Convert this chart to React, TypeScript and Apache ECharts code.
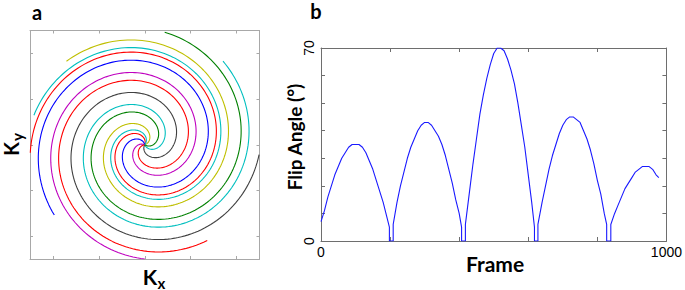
import React, { useEffect, useRef } from "react";
import * as echarts from "echarts";

// ---------- Panel a: spiral k-space interleaves ----------
// colours of the interleaves, in plotting order (MATLAB classic colour order)
const ARM_COLORS = ["#FF0000", "#00BFBF", "#BF00BF", "#BFBF00", "#404040", "#0000FF", "#008000", "#FF0000", "#00BFBF"];
// angle (degrees) where each interleaf reaches the k-space edge
const ARM_END_ANGLES = [184, 47, -90, 133, -5, -142, 80, -57, 165];
// total winding of one interleaf from centre to edge (degrees)
const ARM_SWEEP = 475;
const K_MAX = 5;
const K_TICKS = [-4, -2, 0, 2, 4];

// ---------- Panel b: flip angle schedule ----------
const FRAMES = [
  0, 10, 20, 30, 40, 50, 60, 70, 80, 90, 100, 110, 120, 130, 140, 150, 160, 170, 180, 190, 198, 198, 209,
  209, 220, 230, 240, 250, 260, 270, 280, 290, 300, 310, 320, 330, 340, 350, 360, 370, 380, 390, 400, 407, 407, 418,
  418, 420, 430, 440, 450, 460, 470, 480, 490, 500, 510, 520, 530, 540, 550, 560, 570, 580, 590, 600, 610, 618, 618, 628,
  628, 640, 650, 660, 670, 680, 690, 700, 710, 720, 730, 740, 750, 760, 770, 780, 790, 800, 810, 820, 827, 827, 839,
  839, 850, 860, 870, 880, 890, 900, 910, 920, 930, 940, 950, 960, 970, 978,
];
const FLIP_ANGLES = [
  7, 11, 16, 20, 24, 27, 30, 32, 34, 35, 35, 35, 34, 32, 29, 26, 22, 18, 14, 9, 5, 0, 0,
  6, 14, 20, 25, 30, 34, 37, 40, 42, 43, 43, 42, 40, 38, 35, 31, 26, 21, 15, 10, 5, 0, 0,
  6, 8, 18, 28, 37, 46, 53, 59, 64, 68, 70, 70, 69, 66, 62, 57, 50, 42, 34, 24, 14, 5, 0, 0,
  6, 14, 20, 26, 31, 35, 39, 42, 44, 45, 45, 44, 43, 40, 37, 33, 28, 22, 17, 10, 6, 0, 0,
  6, 10, 13, 16, 19, 21, 23, 25, 26, 27, 27, 27, 26, 24, 23,
];
const FRAME_LABELS = [0, 1000];
const ANGLE_LABELS = [0, 70];

const BOLD_FONT = "Lato";
const TICK_FONT = "Liberation Sans";

function spiralArm(endDeg: number): number[][] {
  const pts: number[][] = [];
  const n = 240;
  for (let i = 0; i <= n; i++) {
    const s = i / n;
    const r = K_MAX * s;
    const th = ((endDeg - ARM_SWEEP * (1 - s)) * Math.PI) / 180;
    pts.push([r * Math.cos(th), r * Math.sin(th)]);
  }
  return pts;
}

function boxAxis(gridIndex: number, position: string, min: number, max: number, color: string, extra: any) {
  return {
    type: "value",
    gridIndex,
    position,
    min,
    max,
    axisLine: { show: true, onZero: false, lineStyle: { color, width: 1 } },
    splitLine: { show: false },
    ...extra,
  };
}

function label(text: string, x: number, y: number, size: number, lineHeight: number, rotated = false) {
  return {
    type: "text",
    x,
    y,
    rotation: rotated ? Math.PI / 2 : 0,
    style: {
      text,
      font: `bold ${size}px ${BOLD_FONT}`,
      lineHeight,
      fill: "#000",
      textAlign: "center",
      textVerticalAlign: "middle",
    },
  };
}

export default function App() {
  const ref = useRef<HTMLDivElement>(null);
  useEffect(() => {
    document.body.style.margin = "0";
    const chart = echarts.init(ref.current as HTMLDivElement, null, { renderer: "svg" });
    const bColor = "#6e6e6e";
    const aColor = "#a8a8a8";
    const tickB = { show: true, inside: true, length: 4, lineStyle: { color: bColor, width: 1 } };
    const tickA = { show: true, inside: true, length: 3, customValues: K_TICKS, lineStyle: { color: aColor, width: 1 } };
    const xLabel = {
      show: true,
      margin: 4,
      color: "#000",
      fontSize: 14,
      fontFamily: TICK_FONT,
      formatter: (v: number) => (FRAME_LABELS.indexOf(v) >= 0 ? String(v) : ""),
    };
    const yLabel = {
      show: true,
      margin: 5,
      rotate: 90,
      color: "#000",
      fontSize: 14,
      fontFamily: TICK_FONT,
      formatter: (v: number) => (ANGLE_LABELS.indexOf(v) >= 0 ? String(v) : ""),
    };

    const option: any = {
      animation: false,
      backgroundColor: "#ffffff",
      grid: [
        { left: 321, top: 48, width: 347, height: 193, containLabel: false },
        { left: 30, top: 30.5, width: 229.5, height: 228.5, containLabel: false },
      ],
      xAxis: [
        boxAxis(0, "bottom", 0, 1000, bColor, { interval: 200, axisTick: tickB, axisLabel: xLabel }),
        boxAxis(0, "top", 0, 1000, bColor, { interval: 200, axisTick: tickB, axisLabel: { show: false } }),
        boxAxis(1, "bottom", -K_MAX, K_MAX, aColor, { axisTick: tickA, axisLabel: { show: false } }),
        boxAxis(1, "top", -K_MAX, K_MAX, aColor, { axisTick: tickA, axisLabel: { show: false } }),
      ],
      yAxis: [
        boxAxis(0, "left", 0, 70, bColor, { interval: 10, axisTick: tickB, axisLabel: yLabel }),
        boxAxis(0, "right", 0, 70, bColor, { interval: 10, axisTick: tickB, axisLabel: { show: false } }),
        boxAxis(1, "left", -K_MAX, K_MAX, aColor, { axisTick: tickA, axisLabel: { show: false } }),
        boxAxis(1, "right", -K_MAX, K_MAX, aColor, { axisTick: tickA, axisLabel: { show: false } }),
      ],
      series: [
        {
          type: "line",
          xAxisIndex: 0,
          yAxisIndex: 0,
          data: FRAMES.map((f, i) => [f, FLIP_ANGLES[i]]),
          showSymbol: false,
          symbol: "none",
          silent: true,
          lineStyle: { color: "#1a1aff", width: 1.1 },
        },
        ...ARM_END_ANGLES.map((a, i) => ({
          type: "line",
          xAxisIndex: 2,
          yAxisIndex: 2,
          data: spiralArm(a),
          showSymbol: false,
          symbol: "none",
          silent: true,
          lineStyle: { color: ARM_COLORS[i], width: 1.1 },
        })),
      ],
      graphic: [
        label("a", 37, 11.5, 20, 16),
        label("b", 316, 11, 20, 16),
        label("K", 150, 276, 21, 16),
        label("x", 161.5, 282.5, 15, 11),
        label("K", 11, 149, 20, 16, true),
        label("y", 16.5, 137, 15, 11, true),
        label("Frame", 495, 263, 21, 18),
        label("Flip Angle (°)", 294, 137, 19, 18, true),
      ],
    };
    chart.setOption(option);
    return () => chart.dispose();
  }, []);
  return <div ref={ref} style={{ position: "absolute", left: 0, top: 0, width: 685, height: 290 }} />;
}
